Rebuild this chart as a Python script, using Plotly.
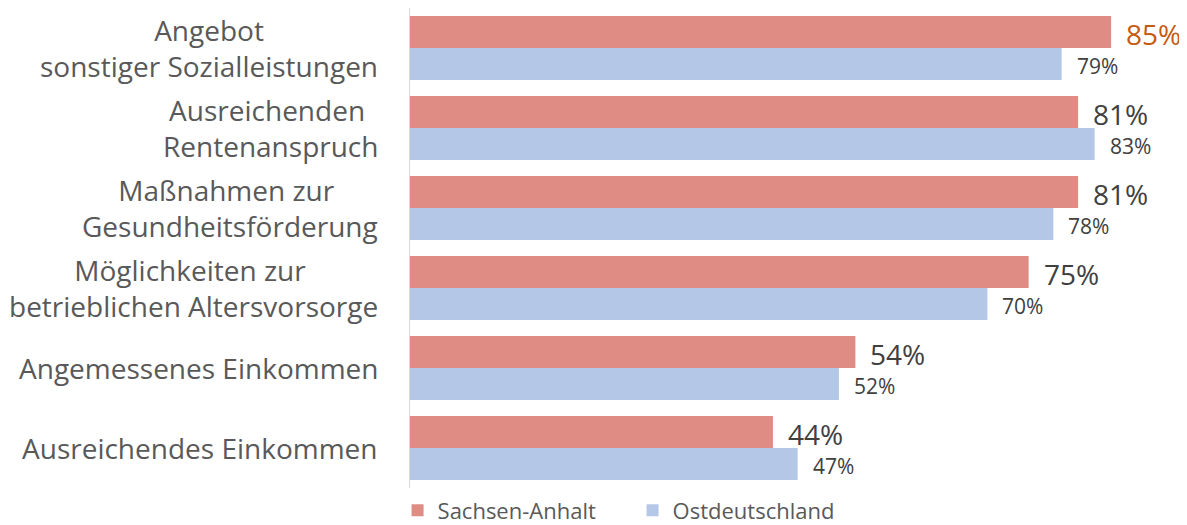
import plotly.graph_objects as go

categories = [
    "Angebot<br>sonstiger Sozialleistungen",
    "Ausreichenden <br>Rentenanspruch",
    "Maßnahmen zur <br>Gesundheitsförderung",
    "Möglichkeiten zur <br>betrieblichen Altersvorsorge",
    "Angemessenes Einkommen",
    "Ausreichendes Einkommen",
]
sachsen_anhalt = [85, 81, 81, 75, 54, 44]
ostdeutschland = [79, 83, 78, 70, 52, 47]
series_names = ["Sachsen-Anhalt", "Ostdeutschland"]

RED = "#DE8C84"
BLUE = "#B4C7E7"
TEXT = "#404040"
LABEL = "#595959"
HIGHLIGHT = "#C55A11"
FONT = "Open Sans"
CAT_SIZE = 28

keys = [f"c{i}" for i in range(len(categories))]

fig = go.Figure()
fig.add_trace(go.Bar(y=keys, x=sachsen_anhalt, orientation="h", name=series_names[0],
                     marker=dict(color=RED, line=dict(width=0))))
fig.add_trace(go.Bar(y=keys, x=ostdeutschland, orientation="h", name=series_names[1],
                     marker=dict(color=BLUE, line=dict(width=0))))

ann = []
for i, (k, v1, v2) in enumerate(zip(keys, sachsen_anhalt, ostdeutschland)):
    ann.append(dict(x=v1, y=k, xref="x", yref="y", text=f"{v1}%", showarrow=False,
                    xanchor="left", yanchor="middle", xshift=13, yshift=14,
                    font=dict(family=FONT, size=28, color=HIGHLIGHT if i == 0 else TEXT)))
    ann.append(dict(x=v2, y=k, xref="x", yref="y", text=f"{v2}%", showarrow=False,
                    xanchor="left", yanchor="middle", xshift=13, yshift=-18,
                    font=dict(family=FONT, size=21, color=TEXT)))
    ann.append(dict(x=0, y=k, xref="paper", yref="y", text=categories[i], showarrow=False,
                    xanchor="right", yanchor="middle", xshift=-30, align="center",
                    font=dict(family=FONT, size=CAT_SIZE, color=LABEL)))

fig.update_layout(
    width=1179, height=545,
    margin=dict(l=402, r=0, t=0, b=65),
    paper_bgcolor="white", plot_bgcolor="white",
    barmode="group", bargap=0.2, bargroupgap=0,
    showlegend=True,
    legend=dict(orientation="h", x=-0.016, xanchor="left", y=-0.047, yanchor="middle",
                font=dict(family=FONT, size=22, color=LABEL), itemwidth=30,
                entrywidth=190, traceorder="normal"),
    xaxis=dict(range=[0, 94.2], showgrid=False, zeroline=False, showticklabels=False,
               showline=False, fixedrange=True),
    yaxis=dict(autorange="reversed", showticklabels=False, showgrid=False,
               showline=True, linecolor="#D9D9D9", linewidth=1, ticks="",
               categoryorder="array", categoryarray=keys),
    annotations=ann,
    font=dict(family=FONT, color=TEXT),
)

fig.write_html("out.html")
